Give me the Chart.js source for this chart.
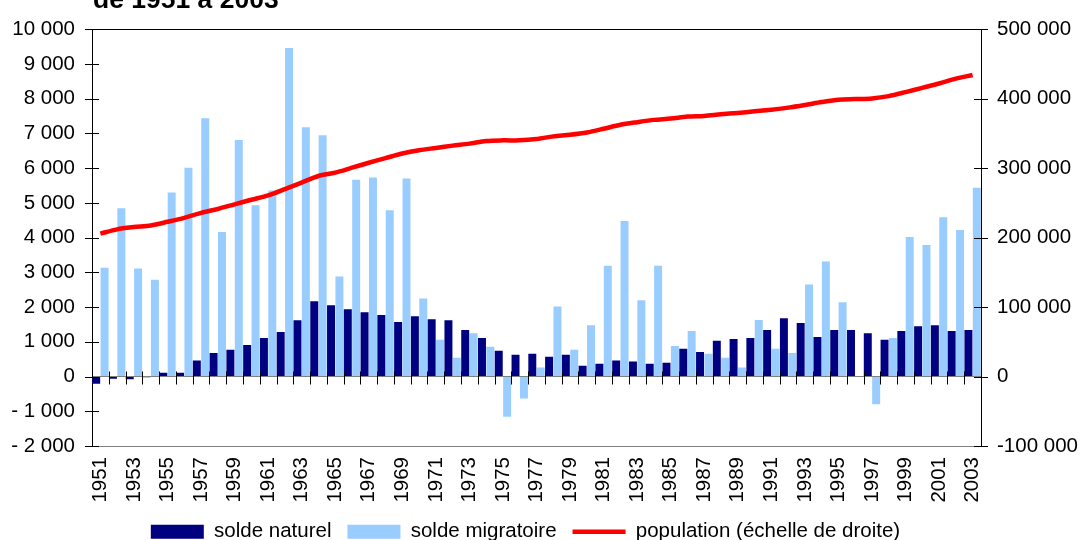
<!DOCTYPE html>
<html>
<head>
<meta charset="utf-8">
<script src="https://cdn.jsdelivr.net/npm/chart.js@4/dist/chart.umd.min.js"></script>
<style>
  html, body { margin: 0; padding: 0; background: #fff; }
  #wrap { width: 1081px; height: 540px; }
</style>
</head>
<body>
<div id="wrap"><canvas id="chart" width="1081" height="540"></canvas></div>
<script>
// -- data --
const years = ['1951','1952','1953','1954','1955','1956','1957','1958','1959','1960',
  '1961','1962','1963','1964','1965','1966','1967','1968','1969','1970',
  '1971','1972','1973','1974','1975','1976','1977','1978','1979','1980',
  '1981','1982','1983','1984','1985','1986','1987','1988','1989','1990',
  '1991','1992','1993','1994','1995','1996','1997','1998','1999','2000',
  '2001','2002','2003'];

const soldeNaturel = [-210, -60, -80, -20, 110, 110, 460, 680, 770, 910,
  1110, 1280, 1620, 2170, 2050, 1940, 1850, 1770, 1570, 1740,
  1650, 1620, 1340, 1110, 740, 630, 660, 570, 630, 310,
  370, 460, 430, 370, 400, 800, 710, 1030, 1080, 1110,
  1340, 1680, 1540, 1140, 1340, 1340, 1250, 1060, 1310, 1450,
  1480, 1310, 1340];

const soldeMigratoire = [3130, 4850, 3110, 2790, 5300, 6010, 7440, 4160, 6810, 4930,
  5360, 9460, 7180, 6950, 2880, 5670, 5730, 4790, 5700, 2250,
  1060, 540, 1250, 860, -1160, -630, 260, 2020, 770, 1480,
  3190, 4480, 2200, 3190, 880, 1310, 660, 540, 260, 1630,
  800, 680, 2650, 3310, 2140, 0, -800, 1110, 4020, 3790,
  4590, 4220, 5440];

const population = [205700, 211900, 215200, 217600, 222800, 228500, 235600, 241300, 248000, 254600,
  260800, 269800, 279300, 288800, 293600, 300700, 307800, 314500, 321100, 325900,
  329200, 332500, 335400, 339200, 340100, 340100, 342000, 345800, 348200, 351500,
  356800, 362500, 366300, 369600, 371500, 374300, 375300, 377700, 379600, 381900,
  384300, 387200, 391000, 395200, 398600, 399500, 400500, 403800, 409500, 415700,
  421900, 429000, 434200];

const seriesNames = ['solde naturel', 'solde migratoire', 'population (échelle de droite)'];
const titleLine = 'de 1951 à 2003';

const FONT = 'Liberation Sans, Arial, sans-serif';

function spaced(n) {
  return String(n).replace(/\B(?=(\d{3})+(?!\d))/g, ' ');
}

// title, partly cut off at the top of the picture
const titlePlugin = {
  id: 'titleLine',
  afterDraw(chart) {
    const ctx = chart.ctx;
    ctx.save();
    ctx.font = 'bold 26.5px ' + FONT;
    ctx.fillStyle = '#000';
    ctx.textBaseline = 'alphabetic';
    ctx.fillText(titleLine, 93, 8);
    ctx.restore();
  }
};

// legend sits a little left of the page centre in the original
const legendShift = {
  id: 'legendShift',
  afterLayout(chart) {
    chart.legend.left -= 15;
    chart.legend.right -= 15;
  }
};

// Excel style tick marks crossing the axes, and category marks on the zero line
const axisTicks = {
  id: 'axisTicks',
  afterDatasetsDraw(chart) {
    const { ctx, scales: { x, y, y1 } } = chart;
    ctx.save();
    ctx.strokeStyle = '#000';
    ctx.lineWidth = 1;
    ctx.beginPath();
    y.ticks.forEach(t => {
      const py = Math.round(y.getPixelForValue(t.value)) + 0.5;
      ctx.moveTo(x.left - 7, py); ctx.lineTo(x.left + 7, py);
    });
    y1.ticks.forEach(t => {
      const py = Math.round(y1.getPixelForValue(t.value)) + 0.5;
      ctx.moveTo(x.right - 7, py); ctx.lineTo(x.right + 7, py);
    });
    const zero = Math.round(y.getPixelForValue(0)) + 0.5;
    const half = (x.getPixelForValue(1) - x.getPixelForValue(0)) / 2;
    for (let i = 1; i < years.length; i++) {
      const px = Math.round(x.getPixelForValue(i) - half) + 0.5;
      ctx.moveTo(px, zero - 6); ctx.lineTo(px, zero + 7);
    }
    ctx.stroke();
    ctx.restore();
  }
};

new Chart(document.getElementById('chart'), {
  data: {
    labels: years,
    datasets: [
      {
        type: 'bar',
        label: seriesNames[0],
        data: soldeNaturel,
        backgroundColor: '#000080',
        yAxisID: 'y',
        order: 1,
        categoryPercentage: 1.0,
        barPercentage: 0.95
      },
      {
        type: 'bar',
        label: seriesNames[1],
        data: soldeMigratoire,
        backgroundColor: '#99CCFF',
        yAxisID: 'y',
        order: 1,
        categoryPercentage: 1.0,
        barPercentage: 0.95
      },
      {
        type: 'line',
        label: seriesNames[2],
        data: population,
        borderColor: '#FF0000',
        backgroundColor: '#FF0000',
        borderWidth: 4.5,
        pointRadius: 0,
        tension: 0.3,
        yAxisID: 'y1',
        order: 0
      }
    ]
  },
  options: {
    responsive: false,
    animation: false,
    devicePixelRatio: 1,
    layout: { padding: { top: 25, left: 0, right: 0, bottom: -12 } },
    scales: {
      x: {
        offset: true,
        grid: { display: false, drawTicks: false },
        border: { display: false },
        ticks: {
          autoSkip: false,
          minRotation: 90,
          maxRotation: 90,
          padding: 11,
          color: '#000',
          font: { family: FONT, size: 20.5 },
          callback: function(val, idx) { return idx % 2 === 0 ? this.getLabelForValue(val) : ''; }
        },
        afterFit(scale) { scale.height = 59.5; }
      },
      y: {
        position: 'left',
        min: -2000,
        max: 10000,
        ticks: {
          stepSize: 1000,
          padding: 17,
          color: '#000',
          font: { family: FONT, size: 20.5 },
          callback: v => v < 0 ? '- ' + spaced(-v) : spaced(v)
        },
        grid: {
          drawTicks: false,
          color: c => c.tick.value === 10000 ? '#000' : (c.tick.value === 0 || c.tick.value === -2000 ? '#808080' : 'rgba(0,0,0,0)')
        },
        border: { display: true, color: '#000', width: 1 },
        afterFit(scale) { scale.width = 92; }
      },
      y1: {
        position: 'right',
        min: -100000,
        max: 500000,
        ticks: {
          stepSize: 100000,
          padding: 16,
          color: '#000',
          font: { family: FONT, size: 20.5 },
          callback: v => v < 0 ? '-' + spaced(-v) : spaced(v)
        },
        grid: { drawOnChartArea: false, drawTicks: false },
        border: { display: true, color: '#000', width: 1 },
        afterFit(scale) { scale.width = 100; }
      }
    },
    plugins: {
      tooltip: { enabled: false },
      legend: {
        position: 'bottom',
        labels: {
          usePointStyle: true,
          pointStyleWidth: 53,
          boxHeight: 14,
          padding: 16,
          color: '#000',
          font: { family: FONT, size: 20.5 },
          generateLabels(chart) {
            const items = Chart.defaults.plugins.legend.labels.generateLabels(chart);
            items.sort((a, b) => a.datasetIndex - b.datasetIndex);
            items.forEach(it => {
              if (it.datasetIndex === 2) {
                it.pointStyle = 'line';
                it.strokeStyle = '#FF0000';
                it.lineWidth = 4.5;
              } else {
                it.pointStyle = 'rect';
                it.lineWidth = 0;
              }
            });
            return items;
          }
        }
      }
    }
  },
  plugins: [titlePlugin, legendShift, axisTicks]
});
</script>
</body>
</html>
